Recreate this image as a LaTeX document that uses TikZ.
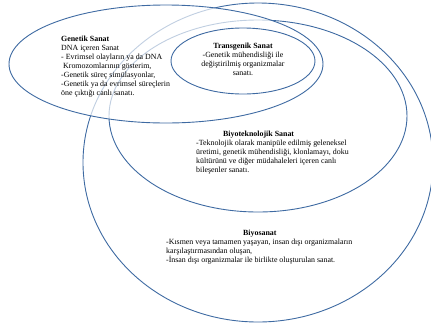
\documentclass[tikz,border=0pt]{standalone}
\usepackage{fontspec}
\setmainfont{Liberation Serif}
\definecolor{ringblue}{RGB}{62,106,162}
\begin{document}
\begin{tikzpicture}[x=1bp,y=-1bp,
  ring/.style={draw=ringblue,line width=0.9bp},
  veil/.style={ring,fill=white,fill opacity=0.68},
  txt/.style={inner sep=0pt,font=\fontsize{7.9bp}{9.1bp}\selectfont,text=black}]
\useasboundingbox (0,0) rectangle (431,324);
% Biyosanat
\draw[ring] (258,162.5) ellipse [x radius=175,y radius=159.5];
% Biyoteknolojik
\draw[ring] (258,116) ellipse [x radius=149,y radius=96];
% Genetik (semi-transparent white fill, lightens lines beneath)
\draw[veil] (166,64) ellipse [x radius=157,y radius=59];
% Transgenik
\draw[ring] (243,61) ellipse [x radius=72,y radius=33];

\node[txt,anchor=north west,align=left] (gen) at (61,35.5) {\textbf{Genetik Sanat}\\DNA içeren Sanat\\- Evrimsel olayların ya da DNA\\\ Kromozomlarının gösterim,\\-Genetik süreç simülasyonlar,\\-Genetik ya da evrimsel süreçlerin\\öne çıktığı canlı sanatı.};
\node[txt,anchor=north,align=center] (tra) at (243,42.5) {\textbf{Transgenik Sanat}\\-Genetik mühendisliği ile\\değiştirilmiş organizmalar\\sanatı.};
\node[txt,anchor=north west,align=left] (bte) at (196,130.5) {\hspace*{27bp}\textbf{Biyoteknolojik Sanat}\\-Teknolojik olarak manipüle edilmiş geleneksel\\üretimi, genetik mühendisliği, klonlamayı, doku\\kültürünü ve diğer müdahaleleri içeren canlı\\bileşenler sanatı.};
\node[txt,anchor=north west,align=left] (bio) at (166,229.5) {\hspace*{77bp}\textbf{Biyosanat}\\-Kısmen veya tamamen yaşayan, insan dışı organizmaların\\karşılaştırmasından oluşan,\\-İnsan dışı organizmalar ile birlikte oluşturulan sanat.};
\end{tikzpicture}
\end{document}
